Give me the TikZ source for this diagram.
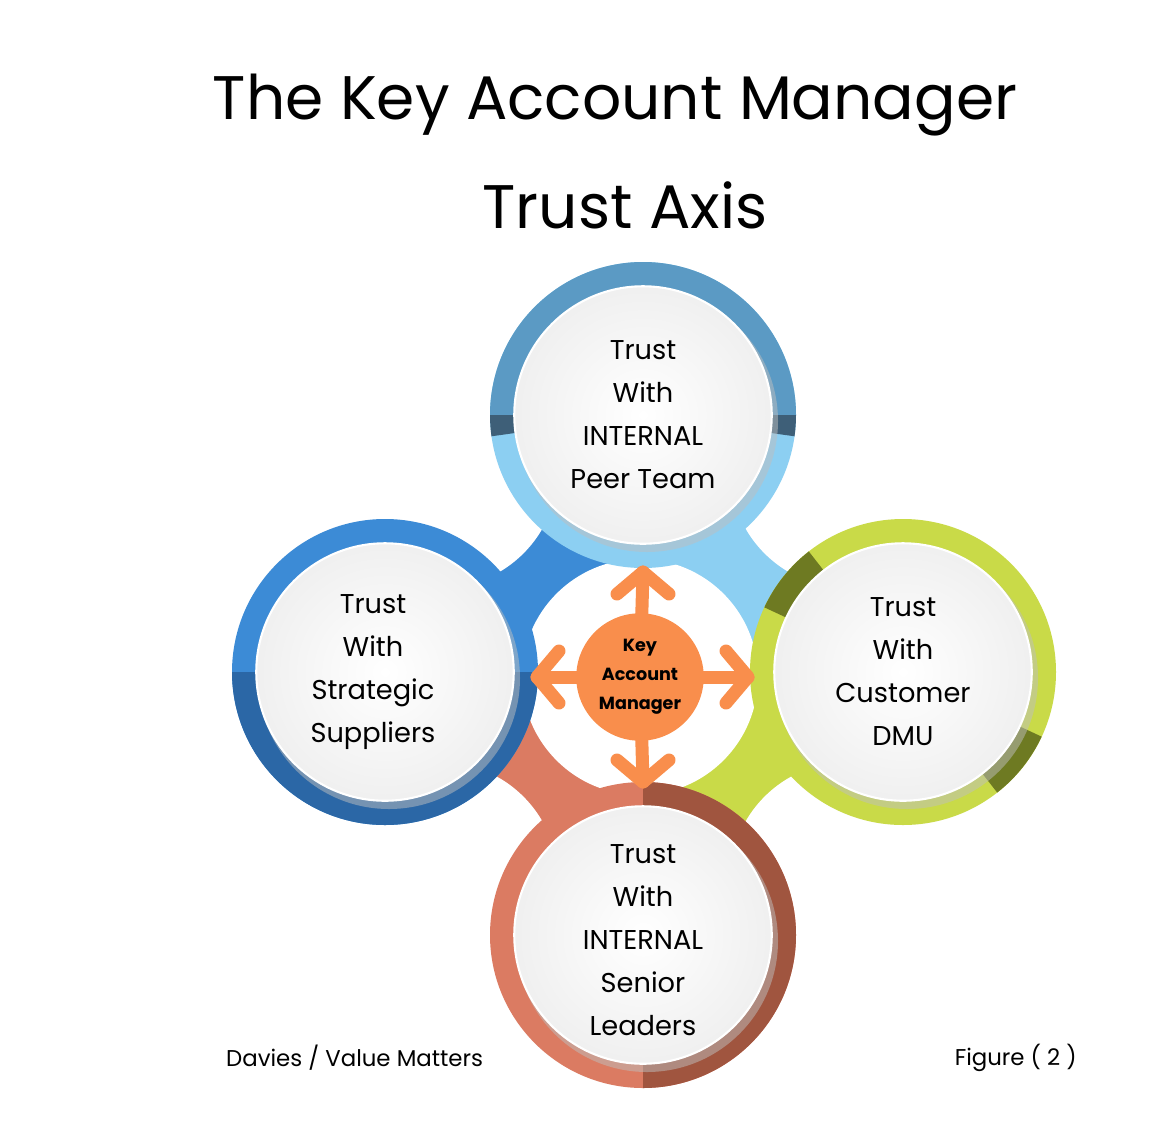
\documentclass[tikz,border=0pt]{standalone}
\usepackage{fontspec}
\setmainfont{Poppins}
\usetikzlibrary{calc}
\definecolor{tA}{HTML}{8CCFF2}\definecolor{tB}{HTML}{5B9AC4}\definecolor{tC}{HTML}{3E5F78}
\definecolor{lA}{HTML}{3C8BD6}\definecolor{lB}{HTML}{2B67A6}
\definecolor{rA}{HTML}{C9DA48}\definecolor{rB}{HTML}{6E7A22}
\definecolor{bA}{HTML}{DB7B62}\definecolor{bB}{HTML}{A0553F}
\definecolor{org}{HTML}{F98E4C}
\tikzset{
 ctext/.style={align=center,font=\fontsize{15.5}{24.5}\selectfont,text=black},
 inner/.style={circle,minimum size=5.15cm,inner sep=0pt,shading=radial,inner color=white,outer color=gray!12,draw=white,line width=1.2pt},
 arr/.style={draw=org,line width=0.26cm,line cap=round,line join=round}
}
\newcommand{\seg}[5]{\fill[#2] (#1) -- ++(#3:153) arc[start angle=#3,end angle=#4,radius=153] -- cycle;}
\begin{document}
\begin{tikzpicture}[x=0.02cm,y=-0.02cm]
\useasboundingbox (0,0) rectangle (1160,1120);
\fill[white] (0,0) rectangle (1160,1120);
\node[font=\fontsize{35}{42}\selectfont] (t1) at (615,105) {The Key Account Manager};
\node[font=\fontsize{35}{42}\selectfont] (t2) at (625,205) {Trust Axis};
\coordinate (T) at (643,415);\coordinate (L) at (385,672);
\coordinate (R) at (903,672);\coordinate (B) at (643,935);
\coordinate (C) at (640,677);
% connectors
\fill[lA] (T)--(L)--(C)--cycle;
\fill[tA] (T)--(R)--(C)--cycle;
\fill[rA] (R)--(B)--(C)--cycle;
\fill[bA] (B)--(L)--(C)--cycle;
\fill[white] (C) circle (118);
\foreach \p in {(440,470),(848,470),(440,880),(848,880)} \fill[white] \p circle (118);
% rings
\fill[tA] (T) circle (153);
\seg{T}{tB}{180}{360}{}
\seg{T}{tC}{0}{8}{}\seg{T}{tC}{172}{180}{}
\fill[lA] (L) circle (153);
\seg{L}{lB}{0}{180}{}
\fill[rA] (R) circle (153);
\seg{R}{rB}{205}{232}{}\seg{R}{rB}{25}{52}{}
\fill[bA] (B) circle (153);
\seg{B}{bB}{-90}{90}{}
\foreach \c in {T,L,R,B} \fill[black!25,opacity=0.5] ($(\c)+(4,6)$) circle (131);
\node[inner] (nT) at (T) {};
\node[inner] (nL) at (L) {};
\node[inner] (nR) at (R) {};
\node[inner] (nB) at (B) {};
\node[ctext] at (nT) {Trust\\With\\INTERNAL\\Peer Team};
\node[ctext] at ($(nL)+(-12,0)$) {Trust\\With\\Strategic\\Suppliers};
\node[ctext] at (nR) {Trust\\With\\Customer\\DMU};
\node[ctext] at ($(nB)+(0,5)$) {Trust\\With\\INTERNAL\\Senior\\Leaders};
% arrows
\coordinate (aT) at (643,572);\coordinate (aB) at (643,782);
\coordinate (aL) at (537,677);\coordinate (aR) at (748,677);
\draw[arr] (C)--(aT); \draw[arr] ($(aT)+(-26,22)$)--(aT)--($(aT)+(26,22)$);
\draw[arr] (C)--(aB); \draw[arr] ($(aB)+(-26,-22)$)--(aB)--($(aB)+(26,-22)$);
\draw[arr] (C)--(aL); \draw[arr] ($(aL)+(22,-26)$)--(aL)--($(aL)+(22,26)$);
\draw[arr] (C)--(aR); \draw[arr] ($(aR)+(-22,-26)$)--(aR)--($(aR)+(-22,26)$);
\node[circle,fill=org,minimum size=2.55cm] (K) at (C) {};
\node[align=center,font=\bfseries\fontsize{10}{16.5}\selectfont] at (K) {Key\\Account\\Manager};
\node[font=\fontsize{13}{16}\selectfont,anchor=west] (f1) at (220,1058) {Davies / Value Matters};
\node[font=\fontsize{13}{16}\selectfont,anchor=east] (f2) at (1083,1058) {Figure ( 2 )};
\end{tikzpicture}
\end{document}
